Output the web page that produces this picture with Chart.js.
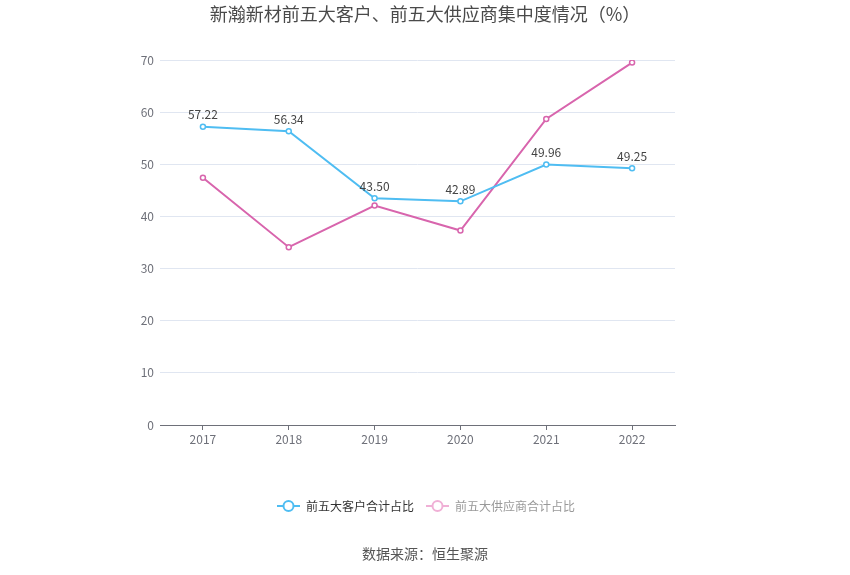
<!DOCTYPE html>
<html>
<head>
<meta charset="utf-8">
<script src="https://cdn.jsdelivr.net/npm/chart.js@4"></script>
<style>
  body { margin: 0; background: #fff; }
  #wrap { width: 850px; height: 575px; }
</style>
</head>
<body>
<div id="wrap"><canvas id="chart" width="850" height="575"></canvas></div>
<script>
// 数据
const years = ['2017', '2018', '2019', '2020', '2021', '2022']
const customerShare = [57.22, 56.34, 43.50, 42.89, 49.96, 49.25]
const supplierShare = [47.4, 34.1, 42.1, 37.3, 58.7, 69.5]
const seriesNames = ['前五大客户合计占比', '前五大供应商合计占比']
const yTicks = [0, 10, 20, 30, 40, 50, 60, 70]

const fontFamily = '"Noto Sans CJK SC", "Microsoft YaHei", sans-serif'
const blue = '#4fbdf2'
const pink = '#d865ad'

// 标题、图例、来源、数值标签
const decorPlugin = {
    id: 'decor',
    afterDatasetsDraw(chart) {
        const ctx = chart.ctx
        ctx.save()

        // 蓝线上的数值
        const meta = chart.getDatasetMeta(0)
        ctx.font = `12px ${fontFamily}`
        ctx.fillStyle = '#444'
        ctx.textAlign = 'center'
        ctx.textBaseline = 'bottom'
        meta.data.forEach((pt, i) => {
            ctx.fillText(customerShare[i].toFixed(2), pt.x, pt.y - 6)
        })

        // 标题
        ctx.font = `18px ${fontFamily}`
        ctx.fillStyle = '#4a4a4a'
        ctx.textBaseline = 'middle'
        ctx.fillText('新瀚新材前五大客户、前五大供应商集中度情况（%）', 425, 14)

        // 图例
        const items = [
            {x: 277, color: blue, text: seriesNames[0], textColor: '#333'},
            {x: 426, color: '#f0b0d6', text: seriesNames[1], textColor: '#999'}
        ]
        const ly = 506
        items.forEach(it => {
            ctx.strokeStyle = it.color
            ctx.lineWidth = 2
            ctx.beginPath()
            ctx.moveTo(it.x, ly)
            ctx.lineTo(it.x + 23, ly)
            ctx.stroke()
            ctx.beginPath()
            ctx.arc(it.x + 11.5, ly, 5, 0, Math.PI * 2)
            ctx.fillStyle = '#fff'
            ctx.fill()
            ctx.stroke()
            ctx.font = `12px ${fontFamily}`
            ctx.fillStyle = it.textColor
            ctx.textAlign = 'left'
            ctx.fillText(it.text, it.x + 29, ly)
        })

        // 来源
        ctx.font = `14px ${fontFamily}`
        ctx.fillStyle = '#555'
        ctx.textAlign = 'center'
        ctx.fillText('数据来源：恒生聚源', 425, 554)
        ctx.restore()
    }
}

new Chart(document.getElementById('chart'), {
    type: 'line',
    data: {
        labels: years,
        datasets: [
            {
                label: seriesNames[0],
                data: customerShare,
                borderColor: blue,
                backgroundColor: '#fff',
                borderWidth: 2,
                pointRadius: 2.5,
                pointBorderWidth: 1.5,
                pointBackgroundColor: '#fff',
                pointBorderColor: blue,
                tension: 0
            },
            {
                label: seriesNames[1],
                data: supplierShare,
                borderColor: pink,
                backgroundColor: '#fff',
                borderWidth: 2,
                pointRadius: 2.5,
                pointBorderWidth: 1.5,
                pointBackgroundColor: '#fff',
                pointBorderColor: pink,
                tension: 0
            }
        ]
    },
    options: {
        responsive: false,
        animation: false,
        layout: { padding: { left: 0, right: 175, top: 60, bottom: 125 } },
        plugins: {
            legend: { display: false },
            title: { display: false },
            tooltip: { enabled: false }
        },
        scales: {
            x: {
                offset: true,
                afterFit: scale => { scale.height = 25 },
                grid: {
                    offset: false,
                    drawOnChartArea: false,
                    color: '#6e7079',
                    tickLength: 5
                },
                border: { color: '#6e7079', width: 1 },
                ticks: {
                    color: '#6e7079',
                    padding: 2,
                    font: { size: 12, family: fontFamily }
                }
            },
            y: {
                min: 0,
                max: 70,
                afterFit: scale => { scale.width = 160 },
                afterBuildTicks: scale => {
                    scale.ticks = yTicks.map(v => ({ value: v }))
                },
                grid: {
                    color: '#e0e6f1',
                    drawTicks: false
                },
                border: { display: false },
                ticks: {
                    color: '#6e7079',
                    padding: 6,
                    font: { size: 12, family: fontFamily }
                }
            }
        }
    },
    plugins: [decorPlugin]
})
</script>
</body>
</html>
